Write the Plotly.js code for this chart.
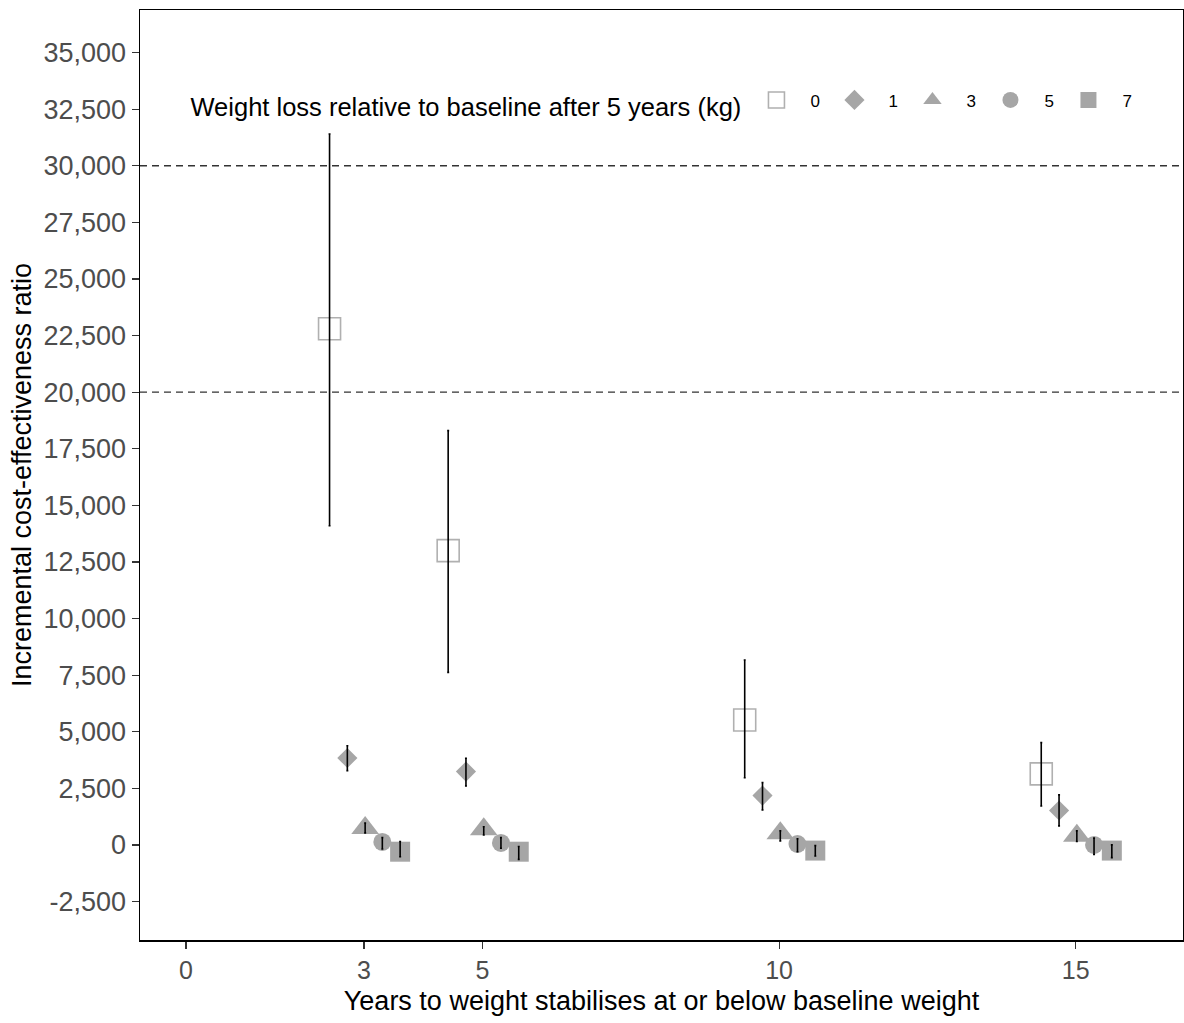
<!DOCTYPE html>
<html><head><meta charset="utf-8">
<script src="https://cdn.plot.ly/plotly-3.0.1.min.js"></script>
<style>html,body{margin:0;padding:0;background:#fff}#chart{width:1184px;height:1023px}</style>
</head><body><div id="chart"></div>
<script>
// Categories: years until weight stabilises at/below baseline
const years = [3, 5, 10, 15];
// Series: weight loss relative to baseline after 5 years (kg)
const weightLoss = ['0', '1', '3', '5', '7'];
// Position dodge of each series around the year
const dodge = [-0.58, -0.28, 0.02, 0.31, 0.61];

// ICER point estimates and interval ends, per series
const icer0 = [22800, 13000, 5520, 3140];
const low0  = [14100, 7620, 2970, 1720];
const high0 = [31400, 18300, 8170, 4520];

const icer1 = [3840, 3240, 2180, 1520];
const low1  = [3280, 2600, 1550, 840];
const high1 = [4380, 3830, 2750, 2210];

const icer3 = [750, 690, 520, 400];
const low3  = [530, 440, 180, 150];
const high3 = [970, 800, 620, 620];

const icer5 = [130, 90, 40, 0];
const low5  = [-180, -150, -300, -420];
const high5 = [320, 320, 265, 300];

const icer7 = [-300, -300, -250, -250];
const low7  = [-520, -640, -490, -560];
const high7 = [150, -70, -30, 0];

// Tick labels
const xTicks = [0, 3, 5, 10, 15];
const yTickVals = [-2500, 0, 2500, 5000, 7500, 10000, 12500, 15000, 17500, 20000, 22500, 25000, 27500, 30000, 32500, 35000];
const yTickText = ['-2,500', '0', '2,500', '5,000', '7,500', '10,000', '12,500', '15,000', '17,500', '20,000', '22,500', '25,000', '27,500', '30,000', '32,500', '35,000'];
const thresholds = [20000, 30000];

const values = [icer0, icer1, icer3, icer5, icer7];
const lows = [low0, low1, low3, low5, low7];
const highs = [high0, high1, high3, high5, high7];

const grey = '#a6a6a6';
const markerStyles = [
  {symbol: 'square-open', size: 22, color: '#b0b0b0', line: {color: '#b0b0b0', width: 1.6}},
  {symbol: 'diamond', size: 15.5, color: grey, line: {width: 0}},
  {symbol: 'triangle-up', size: 24, color: grey, line: {width: 0}},
  {symbol: 'circle', size: 18, color: grey, line: {width: 0}},
  {symbol: 'square', size: 20, color: grey, line: {width: 0}}
];

const nb = '\u00a0\u00a0\u00a0';
const traces = [];
const errTraces = [];
weightLoss.forEach((w, i) => {
  const xs = years.map(y => y + dodge[i]);
  traces.push({
    type: 'scatter', mode: 'markers', x: xs, y: values[i],
    name: nb + w, marker: markerStyles[i], hoverinfo: 'x+y', showlegend: true
  });
  errTraces.push({
    type: 'scatter', mode: 'markers', x: xs, y: values[i], showlegend: false,
    marker: {size: 1, opacity: 0}, hoverinfo: 'skip',
    error_y: {type: 'data', symmetric: false,
      array: highs[i].map((h, k) => h - values[i][k]),
      arrayminus: lows[i].map((l, k) => values[i][k] - l),
      color: '#000', thickness: 1.6, width: 1}
  });
});

const layout = {
  width: 1184, height: 1023,
  margin: {l: 140, r: 1, t: 10, b: 83},
  paper_bgcolor: '#fff', plot_bgcolor: '#fff',
  font: {family: 'Liberation Sans, Arial, sans-serif', color: '#000'},
  showlegend: true,
  legend: {
    orientation: 'h', x: 0.0465, xanchor: 'left', y: 0.8985, yanchor: 'middle',
    bgcolor: 'rgba(0,0,0,0)', font: {size: 17, color: '#000'},
    title: {text: 'Weight loss relative to baseline after 5 years (kg)\u00a0', side: 'left', font: {size: 25.5, color: '#000'}},
    entrywidth: 33, traceorder: 'normal'
  },
  xaxis: {
    range: [-0.776, 16.81], tickvals: xTicks, ticktext: xTicks.map(String),
    showgrid: false, zeroline: false, showline: true, mirror: true, linecolor: '#000', linewidth: 1.5,
    ticks: 'outside', ticklen: 7, tickcolor: '#333', tickwidth: 1.2,
    tickfont: {size: 25, color: '#4d4d4d'},
    title: {text: 'Years to weight stabilises at or below baseline weight', font: {size: 27, color: '#000'}, standoff: 8}
  },
  yaxis: {
    range: [-4200, 36880], tickvals: yTickVals, ticktext: yTickText,
    showgrid: false, zeroline: false, showline: true, mirror: true, linecolor: '#000', linewidth: 1.5,
    ticks: 'outside', ticklen: 7, tickcolor: '#333', tickwidth: 1.2,
    tickfont: {size: 27, color: '#4d4d4d'},
    title: {text: 'Incremental cost-effectiveness ratio', font: {size: 27, color: '#000'}, standoff: 4}
  },
  shapes: thresholds.map(t => ({
    type: 'line', xref: 'paper', x0: 0, x1: 1, yref: 'y', y0: t, y1: t,
    line: {color: '#333', width: 1.4, dash: '7px,5px'}, layer: 'below'
  }))
};

Plotly.newPlot('chart', traces.concat(errTraces), layout, {displayModeBar: false, staticPlot: true});
</script>
</body></html>
